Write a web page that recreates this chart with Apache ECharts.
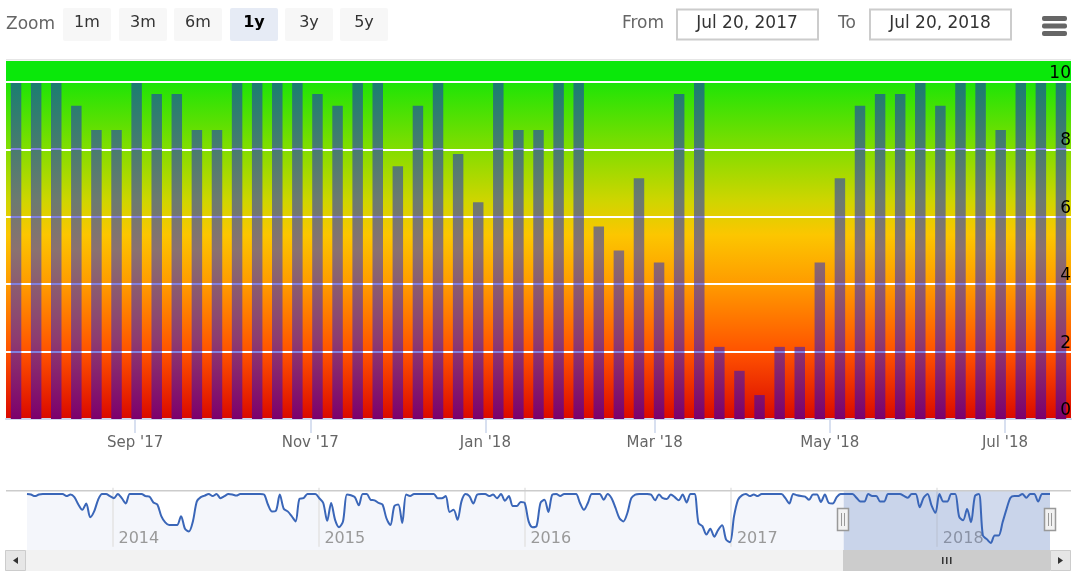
<!DOCTYPE html>
<html>
<head>
<meta charset="utf-8">
<title>Chart</title>
<script src="https://cdn.jsdelivr.net/npm/echarts@6/dist/echarts.min.js"></script>
<style>
    html, body { margin: 0; padding: 0; background: #fff; }
    #chart { width: 1081px; height: 575px; }
</style>
</head>
<body>
<div id="chart"></div>
<script>
// weekly values, Jul 2017 - Jul 2018
const barValues = [
    10, 10, 10, 9.29, 8.57, 8.57, 10, 9.64, 9.64, 8.57, 8.57, 10, 10, 10, 10, 9.64, 9.29, 10, 10, 7.5,
    9.29, 10, 7.86, 6.43, 10, 8.57, 8.57, 10, 10, 5.71, 5, 7.14, 4.64, 9.64, 10, 2.14, 1.43, 0.71, 2.14, 2.14,
    4.64, 7.14, 9.29, 9.64, 9.64, 10, 9.29, 10, 10, 8.57, 10, 10, 10
];
// weekly values of the navigator before the selected year, from Aug 2013
const navValues = [
    10, 9.9, 9.6, 9.9, 10, 10, 10, 10, 10, 10, 9.6, 9.9, 9.4, 8, 7, 8.2, 5.6, 6.7, 8.9, 10, 10, 9.6, 9.2, 10, 9.2, 8.2, 10,
    10, 10, 10, 9.6, 9.5, 8.4, 8, 5.8, 4.6, 4.1, 4.1, 4.1, 5.8, 3.4, 2.9, 4.8, 8.6, 9.4, 9.7, 10, 9.6, 10, 9.2, 9.6, 10, 9.9, 9.7,
    10, 10, 10, 10, 10, 10, 9.9, 8, 6.7, 6.8, 9.9, 7.2, 6.7, 5.8, 4.8, 9.1, 9.2, 10, 10, 10, 9.2, 8.3, 4.9, 8.3, 5.1, 3.7, 4.8,
    9.9, 9.75, 9.4, 7.85, 10, 10, 8.9, 8.8, 8.3, 8, 5.4, 4.1, 7.7, 8, 4.5, 9.9, 9.6, 10, 10, 10, 10, 10, 10, 9.2,
    9.2, 9.6, 6.6, 7, 5.1, 8.6, 10, 9.6, 8.2, 9.9, 10, 10, 9.6, 9.9, 9.2, 10, 8.7, 9.6, 7.7, 7.7, 8.5, 8.3, 4.8, 3.7, 3.9, 8.3,
    8.9, 6.6, 9.9, 10, 9.6, 10, 10, 10, 10, 8.3, 7, 8.3, 10, 10, 10, 8.9, 10, 9.2, 7.35, 5.4, 4.8, 6.4, 9.2, 9.9, 10, 10,
    10, 9.9, 8.8, 9.9, 9.2, 9.05, 9.9, 9.4, 8.8, 9.9, 8.4, 10, 10, 4.5, 3.9, 2.3, 3.4, 1.9, 3.2, 4.05, 1.35, 0.85, 5.76, 8.9, 9.75,
    10, 9.6, 9.9, 9.6, 10, 10, 10, 10, 10, 10, 9.2, 8.2, 10, 9.75, 9.6, 9.5, 8.9, 9.9, 9.9, 8.5, 9.9, 8.3, 8.2, 9.4, 10
];
const monthTicks = ['2017-09-01', '2017-11-01', '2018-01-01', '2018-03-01', '2018-05-01', '2018-07-01'];
const yearTicks = ['2014-01-01', '2015-01-01', '2016-01-01', '2017-01-01', '2018-01-01'];
const zoomButtons = ['1m', '3m', '6m', '1y', '3y', '5y'];
const fromDate = 'Jul 20, 2017';
const toDate = 'Jul 20, 2018';

const DAY = 86400000;
const FONT = '"DejaVu Sans"';
const MONTHS = ['Jan', 'Feb', 'Mar', 'Apr', 'May', 'Jun', 'Jul', 'Aug', 'Sep', 'Oct', 'Nov', 'Dec'];

let ts = s => Date.parse(s + 'T00:00:00Z');
let barStart = ts('2017-07-21') + DAY / 2;
let barData = barValues.map((v, i) => [barStart + i * 7 * DAY, v]);
let allValues = navValues.concat(barValues);
let navStart = barStart - navValues.length * 7 * DAY;
let navData = allValues.map((v, i) => [navStart + i * 7 * DAY, v]);
let navEnd = navData[navData.length - 1][0];

// colour of the bars by height on the page, blue where a grid line passes
let barBase = [
    [0, [26, 125, 112]], [0.35, [108, 122, 112]], [0.5, [138, 113, 112]],
    [0.77, [141, 58, 112]], [1, [124, 0, 108]]
];
function barColorAt(o) {
    for (let i = 1; i < barBase.length; i++) {
        if (o <= barBase[i][0]) {
            let a = barBase[i - 1], b = barBase[i], t = (o - a[0]) / (b[0] - a[0]);
            let c = a[1].map((x, k) => Math.round(x + (b[1][k] - x) * t));
            return 'rgb(' + c.join(',') + ')';
        }
    }
    return 'rgb(124,0,108)';
}
function barStops() {
    let offs = [0.2, 0.4, 0.6, 0.8];
    let stops = [
        {offset: 0, color: '#fff'},
        {offset: 0.003, color: '#fff'},
        {offset: 0.0031, color: barColorAt(0.0031)}
    ];
    barBase.slice(1).forEach(function (s) {
        stops.push({offset: s[0], color: barColorAt(s[0])});
    });
    offs.forEach(function (o) {
        let w = 0.003;
        stops.push({offset: o - w, color: barColorAt(o - w)});
        stops.push({offset: o - w + 0.0001, color: '#8080e0'});
        stops.push({offset: o + w - 0.0001, color: '#8080e0'});
        stops.push({offset: o + w, color: barColorAt(o + w)});
    });
    stops.sort((a, b) => a.offset - b.offset);
    return stops;
}

function rect(x, y, w, h, fill, extra) {
    return {
        type: 'rect',
        z: 100,
        shape: {x: x, y: y, width: w, height: h, r: (extra && extra.r) || 0},
        style: {fill: fill, stroke: extra && extra.stroke, lineWidth: extra && extra.lineWidth},
        silent: true
    };
}
function label(text, x, y, opts) {
    return {
        type: 'text',
        z: 101,
        x: x,
        y: y,
        silent: true,
        style: Object.assign({
            text: text,
            font: '17px ' + FONT,
            fill: '#666',
            align: 'center',
            verticalAlign: 'middle'
        }, opts || {})
    };
}
function handle(x) {
    let box = rect(x - 5.5, 508.5, 11, 22, '#f2f2f2', {stroke: '#999', lineWidth: 1.5});
    let a = rect(x - 2, 513, 1, 13, '#999');
    let b = rect(x + 1, 513, 1, 13, '#999');
    a.z = b.z = 102;
    return [box, a, b];
}

function toolbar() {
    let items = [label('Zoom', 6, 25, {align: 'left'})];
    let xs = [63, 119, 174, 230, 285, 340];
    zoomButtons.forEach(function (b, i) {
        let on = b === '1y';
        items.push(rect(xs[i], 8, 48, 33, on ? '#e6ebf5' : '#f7f7f7', {r: 2}));
        items.push(label(b, xs[i] + 24, 23, {
            font: (on ? 'bold ' : '') + '16px ' + FONT,
            fill: on ? '#000' : '#333'
        }));
    });
    items.push(label('From', 643, 24));
    items.push(rect(677, 9.5, 141, 30, '#fff', {stroke: '#ccc', lineWidth: 2}));
    items.push(label(fromDate, 747, 24, {fill: '#333'}));
    items.push(label('To', 847, 24));
    items.push(rect(870, 9.5, 141, 30, '#fff', {stroke: '#ccc', lineWidth: 2}));
    items.push(label(toDate, 940, 24, {fill: '#333'}));
    [16, 23.5, 31].forEach(function (y) {
        items.push(rect(1042, y, 25, 5, '#666', {r: 2}));
    });
    return items;
}

function scrollbar() {
    let items = [
        rect(6, 59, 1065, 1.5, '#e6e6e6'),
        rect(6, 490, 1065, 1.5, '#cccccc'),
        rect(5, 550, 1066, 21, '#f2f2f2'),
        rect(843, 550, 207, 21, '#cccccc'),
        rect(5.5, 550.5, 20, 20, '#e6e6e6', {stroke: '#cccccc', lineWidth: 1}),
        rect(1050.5, 550.5, 20, 20, '#e6e6e6', {stroke: '#cccccc', lineWidth: 1}),
        {type: 'polygon', z: 101, silent: true, shape: {points: [[18, 557], [18, 564], [13, 560.5]]}, style: {fill: '#333'}},
        {type: 'polygon', z: 101, silent: true, shape: {points: [[1058, 557], [1058, 564], [1063, 560.5]]}, style: {fill: '#333'}}
    ];
    [942, 946, 950].forEach(function (x) {
        let g = rect(x, 557, 1.5, 7, '#333');
        g.z = 101;
        items.push(g);
    });
    return items.concat(handle(843), handle(1050));
}

let myChart = echarts.init(document.getElementById('chart'));
let option = {
    animation: false,
    textStyle: {fontFamily: FONT},
    graphic: {elements: toolbar().concat(scrollbar())},
    grid: [
        {
            left: 6, top: 61, width: 1065, height: 358,
            show: true, borderWidth: 0,
            backgroundColor: new echarts.graphic.LinearGradient(0, 0, 0, 1, [
                {offset: 0, color: '#0ae80a'},
                {offset: 0.056, color: '#0ae80a'},
                {offset: 0.067, color: '#22e406'},
                {offset: 0.249, color: '#84dd00'},
                {offset: 0.39, color: '#cfd500'},
                {offset: 0.486, color: '#fcc600'},
                {offset: 0.626, color: '#ff9a00'},
                {offset: 0.813, color: '#ff5200'},
                {offset: 1, color: '#da0800'}
            ])
        },
        {left: 27, top: 491, width: 1023, height: 59, show: true, borderWidth: 0, backgroundColor: '#fff'}
    ],
    xAxis: [
        {
            type: 'value', gridIndex: 0,
            min: barStart - 3.5 * DAY, max: barStart + 52 * 7 * DAY + 3.5 * DAY,
            axisLine: {show: true, onZero: false, lineStyle: {color: '#ccd6eb', width: 2}},
            axisTick: {show: true, length: 14, lineStyle: {color: '#ccd6eb', width: 1.5}, customValues: monthTicks.map(ts)},
            splitLine: {show: false},
            axisLabel: {
                customValues: monthTicks.map(ts),
                margin: 17,
                color: '#666',
                fontSize: 15,
                fontFamily: FONT,
                hideOverlap: false,
                formatter: function (v) {
                    let d = new Date(v);
                    return MONTHS[d.getUTCMonth()] + " '" + String(d.getUTCFullYear()).slice(2);
                }
            }
        },
        {
            type: 'value', gridIndex: 1, z: 2,
            min: navStart, max: navEnd,
            axisLine: {show: false},
            axisTick: {show: true, inside: true, length: 59, lineStyle: {color: '#e3e3e3', width: 1.5}, customValues: yearTicks.map(ts)},
            splitLine: {show: false},
            axisLabel: {
                customValues: yearTicks.map(ts),
                inside: true,
                margin: 3,
                color: '#999',
                fontSize: 16,
                fontFamily: FONT,
                align: 'left',
                verticalAlign: 'bottom',
                padding: [0, 0, 0, 6],
                hideOverlap: false,
                formatter: function (v) {
                    return String(new Date(v).getUTCFullYear());
                }
            }
        }
    ],
    yAxis: [
        {
            type: 'value', gridIndex: 0, min: 0, max: 10.62, interval: 2,
            axisLine: {show: false}, axisTick: {show: false}, axisLabel: {show: false},
            splitLine: {show: true, showMaxLine: false, lineStyle: {color: '#fff', width: 2}}
        },
        {
            type: 'value', gridIndex: 0, min: 0, max: 10.62, interval: 2, position: 'right', z: 5,
            axisLine: {show: false}, axisTick: {show: false}, splitLine: {show: false},
            axisLabel: {
                inside: true, margin: 0, color: '#000', fontSize: 17, fontFamily: FONT,
                verticalAlign: 'bottom', showMaxLabel: false
            }
        },
        {
            type: 'value', gridIndex: 1, min: -0.63, max: 10.57,
            axisLine: {show: false}, axisTick: {show: false}, axisLabel: {show: false}, splitLine: {show: false}
        }
    ],
    series: [
        {
            type: 'bar', xAxisIndex: 0, yAxisIndex: 0,
            data: barData,
            barWidth: 10.5,
            itemStyle: {color: new echarts.graphic.LinearGradient(0, 82, 0, 419, barStops(), true)}
        },
        {
            // navigator fill
            type: 'line', xAxisIndex: 1, yAxisIndex: 2, z: 1,
            data: navData,
            smooth: 0.3,
            showSymbol: false,
            lineStyle: {width: 0},
            areaStyle: {color: '#f4f6fb', opacity: 1, origin: 'start'}
        },
        {
            // selected range
            type: 'custom', xAxisIndex: 1, yAxisIndex: 2, z: 3,
            silent: true,
            data: [[ts('2017-07-20'), navEnd]],
            encode: {x: [0, 1]},
            clip: false,
            renderItem: function (params, api) {
                let a = api.coord([api.value(0), 0]);
                let b = api.coord([api.value(1), 0]);
                return {
                    type: 'rect',
                    shape: {x: a[0], y: params.coordSys.y, width: b[0] - a[0], height: params.coordSys.height},
                    style: {fill: 'rgba(102,133,194,0.3)'}
                };
            }
        },
        {
            type: 'line', xAxisIndex: 1, yAxisIndex: 2, z: 4,
            data: navData,
            smooth: 0.3,
            showSymbol: false,
            lineStyle: {color: '#3a66b8', width: 2}
        }
    ]
};
option && myChart.setOption(option);
</script>
</body>
</html>
